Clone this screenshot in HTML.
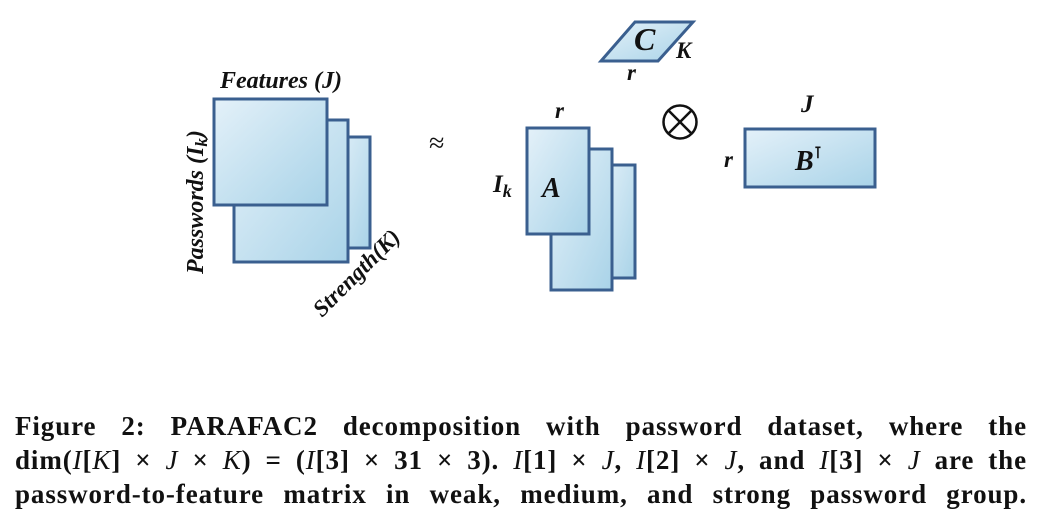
<!DOCTYPE html>
<html><head><style>
body{margin:0;background:#fff;width:1044px;height:520px;overflow:hidden;position:relative;font-family:"Liberation Serif",serif}
.cap{position:absolute;left:15px;width:1012px;font-weight:bold;font-size:27px;line-height:30px;letter-spacing:0.9px;text-align:justify;text-align-last:justify;color:#111;white-space:nowrap}
.cap i{font-weight:normal}
</style></head><body>
<svg width="1044" height="400" style="position:absolute;left:0;top:0" font-family="Liberation Serif" font-weight="bold" font-style="italic">
<defs><linearGradient id="g" x1="0" y1="0" x2="1" y2="1"><stop offset="0" stop-color="#e4f1f9"/><stop offset="1" stop-color="#a9d3e8"/></linearGradient></defs>
<g stroke="#3a5f8f" stroke-width="3" fill="url(#g)">
<rect x="330" y="137" width="40" height="111"/>
<rect x="234" y="120" width="114" height="142"/>
<rect x="214" y="99" width="113" height="106"/>
<polygon points="601,61 658,61 693,22 635,22"/>
<rect x="600" y="165" width="35" height="113"/>
<rect x="551" y="149" width="61" height="141"/>
<rect x="527" y="128" width="62" height="106"/>
<rect x="745" y="129" width="130" height="58"/>
</g>
<g fill="#111">
<text x="220" y="88" font-size="24">Features (J)</text>
<text transform="translate(203,274) rotate(-90)" font-size="24">Passwords (I<tspan font-size="17" dy="4">k</tspan><tspan dy="-4">)</tspan></text>
<text transform="translate(322,318) rotate(-45)" font-size="23">Strength(K)</text>
<text x="429" y="152" font-size="28" font-style="normal" font-weight="normal">≈</text>
<text x="634" y="50" font-size="32">C</text>
<text x="676" y="58" font-size="23">K</text>
<text x="627" y="80" font-size="23">r</text>
<text x="555" y="118" font-size="23">r</text>
<text x="493" y="192" font-size="25">I<tspan font-size="18" dy="5">k</tspan></text>
<text x="542" y="197" font-size="28">A</text>
<text x="801" y="112" font-size="25">J</text>
<text x="724" y="167" font-size="23">r</text>
<text x="795" y="170" font-size="28">B<tspan font-size="16" font-style="normal" dy="-12">⊺</tspan></text>
</g>
<g stroke="#111" stroke-width="2.5" fill="none">
<circle cx="680" cy="122" r="16.5"/>
<line x1="668.3" y1="110.3" x2="691.7" y2="133.7"/><line x1="691.7" y1="110.3" x2="668.3" y2="133.7"/>
</g>
</svg>
<div class="cap" style="top:411px">Figure 2: PARAFAC2 decomposition with password dataset, where the</div>
<div class="cap" style="top:445px">dim(<i>I</i>[<i>K</i>] × <i>J</i> × <i>K</i>) = (<i>I</i>[3] × 31 × 3). <i>I</i>[1] × <i>J</i>, <i>I</i>[2] × <i>J</i>, and <i>I</i>[3] × <i>J</i> are the</div>
<div class="cap" style="top:479px">password-to-feature matrix in weak, medium, and strong password group.</div>
</body></html>
